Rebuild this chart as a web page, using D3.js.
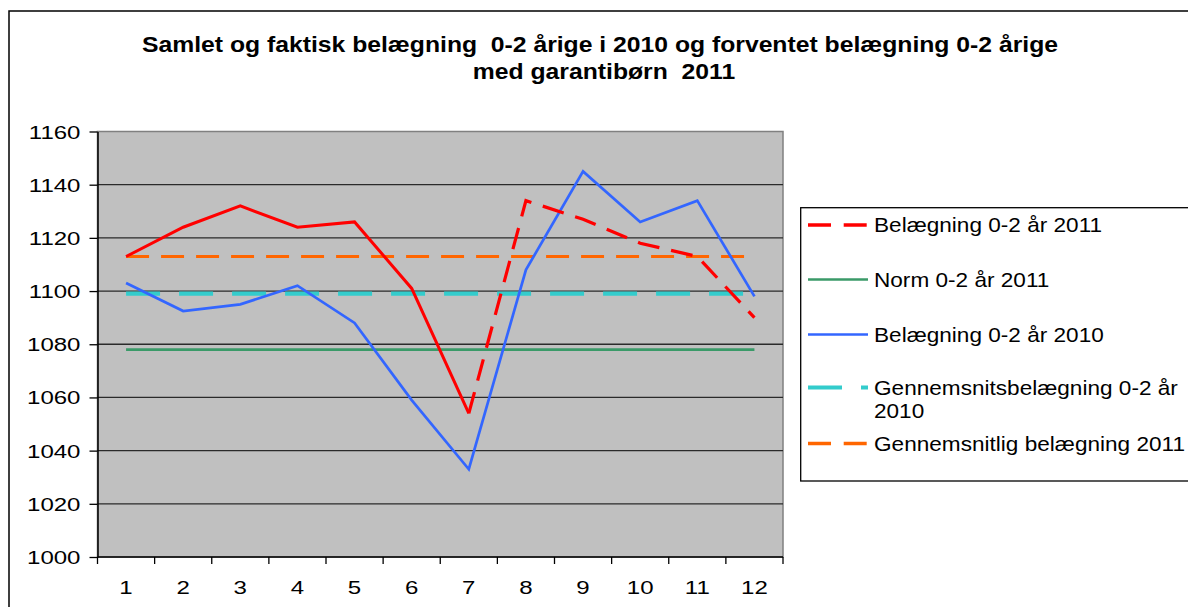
<!DOCTYPE html>
<html lang="da">
<head>
<meta charset="UTF-8">
<title>Samlet og faktisk belægning 0-2 årige</title>
<script src="https://d3js.org/d3.v7.min.js"></script>
<style>
    body { margin: 0; background: #fff; }
    svg text { font-family: "Liberation Sans", Arial, sans-serif; fill: #000; white-space: pre; }
    .title { font-weight: bold; font-size: 21.5px; }
    .tick-label { font-size: 18.5px; }
    .legend-label { font-size: 20px; }
</style>
</head>
<body>
<svg width="1188" height="607"></svg>
<script>
// Data
const months = [1, 2, 3, 4, 5, 6, 7, 8, 9, 10, 11, 12];
const belaegning2011 = [1113, 1124, 1132, 1124, 1126, 1101, 1054, 1134, 1127, 1118, 1113, 1090];
const norm2011 = [1078, 1078, 1078, 1078, 1078, 1078, 1078, 1078, 1078, 1078, 1078, 1078];
const belaegning2010 = [1103, 1092.5, 1095, 1102, 1088, 1059, 1033, 1108, 1145, 1126, 1134, 1098];
const gns2010 = [1099, 1099, 1099, 1099, 1099, 1099, 1099, 1099, 1099, 1099, 1099, 1099];
const gns2011 = [1113, 1113, 1113, 1113, 1113, 1113, 1113, 1113, 1113, 1113, 1113, 1113];
const yTicks = [1000, 1020, 1040, 1060, 1080, 1100, 1120, 1140, 1160];
const titleLines = ["Samlet og faktisk belægning  0-2 årige i 2010 og forventet belægning 0-2 årige",
                    "med garantibørn  2011"];
const legendNames = [["Belægning 0-2 år 2011"], ["Norm 0-2 år 2011"], ["Belægning 0-2 år 2010"],
                     ["Gennemsnitsbelægning 0-2 år", "2010"], ["Gennemsnitlig belægning 2011"]];
const dashedFromMonth = 7; // red 2011 line is dashed from month 7 on (forecast)

// styles
const colors = { red: "#ff0000", green: "#3a9a68", blue: "#3366ff", cyan: "#33cccc", orange: "#ff6600" };
const stretch = { title: 1.15, tick: 1.3, legend: 1.13 };

const svg = d3.select("svg");

// outer chart frame (runs off the picture right and bottom)
svg.append("rect")
    .attr("x", 9).attr("y", 11).attr("width", 1300).attr("height", 700)
    .attr("fill", "#fff").attr("stroke", "#000").attr("stroke-width", 1.5);

// title
svg.selectAll(".title")
    .data(titleLines)
    .enter().append("text")
    .attr("class", "title")
    .attr("text-anchor", "middle")
    .attr("transform", (d, i) => `translate(${i ? 604 : 600},${52 + i * 27}) scale(${stretch.title},1)`)
    .text(d => d);

const plot = { left: 97.5, right: 783, top: 131.5, bottom: 557 };

const x = d3.scaleBand().domain(months).range([plot.left, plot.right]);
const y = d3.scaleLinear().domain([1000, 1160]).range([plot.bottom, plot.top]);
const cx = m => x(m) + x.bandwidth() / 2;

// plot area
svg.append("rect")
    .attr("x", plot.left).attr("y", plot.top)
    .attr("width", plot.right - plot.left).attr("height", plot.bottom - plot.top)
    .attr("fill", "#c0c0c0").attr("stroke", "#808080").attr("stroke-width", 1.5);

// gridlines
svg.append("g")
    .selectAll("line")
    .data(yTicks.filter(t => t > 1000 && t < 1160))
    .enter().append("line")
    .attr("x1", plot.left).attr("x2", plot.right)
    .attr("y1", d => y(d)).attr("y2", d => y(d))
    .attr("stroke", "#2a2a2a").attr("stroke-width", 1.3);

// y axis
const yAxis = svg.append("g")
    .attr("transform", `translate(${plot.left},0)`)
    .call(d3.axisLeft(y).tickValues(yTicks).tickSize(8).tickSizeOuter(0).tickFormat(d3.format("d")));
yAxis.select(".domain").attr("stroke", "#000").attr("stroke-width", 1.5);
yAxis.selectAll(".tick line").attr("stroke", "#000").attr("stroke-width", 1.3);
yAxis.selectAll(".tick text")
    .attr("class", "tick-label")
    .attr("x", null).attr("dy", null)
    .attr("font-size", null).attr("font-family", null)
    .attr("transform", `translate(-17,6.5) scale(${stretch.tick},1)`);
yAxis.attr("font-size", null).attr("font-family", null);

// x axis: ticks at band boundaries, labels centred in bands
const xAxis = svg.append("g").attr("transform", `translate(0,${plot.bottom})`);
xAxis.append("line")
    .attr("x1", plot.left).attr("x2", plot.right)
    .attr("stroke", "#000").attr("stroke-width", 1.5);
xAxis.selectAll(".xtick")
    .data(months.concat([null]))
    .enter().append("line")
    .attr("x1", (d, i) => i < months.length ? x(d) : plot.right)
    .attr("x2", (d, i) => i < months.length ? x(d) : plot.right)
    .attr("y1", 0).attr("y2", 7)
    .attr("stroke", "#000").attr("stroke-width", 1.3);
xAxis.selectAll(".tick-label")
    .data(months)
    .enter().append("text")
    .attr("class", "tick-label")
    .attr("text-anchor", "middle")
    .attr("transform", d => `translate(${cx(d)},37) scale(${stretch.tick},1)`)
    .text(d => d);

// series
const line = d3.line().x(d => cx(d.m)).y(d => y(d.v));
const pts = arr => months.map((m, i) => ({ m, v: arr[i] }));

const series = [
    { data: pts(norm2011), color: colors.green, width: 2.7, dash: null },
    { data: pts(gns2010), color: colors.cyan, width: 4.2, dash: "34,19" },
    { data: pts(gns2011), color: colors.orange, width: 3.2, dash: "23,12" },
    { data: pts(belaegning2010), color: colors.blue, width: 2.7, dash: null },
    { data: pts(belaegning2011).filter(d => d.m <= dashedFromMonth), color: colors.red, width: 3, dash: null },
    { data: pts(belaegning2011).filter(d => d.m >= dashedFromMonth), color: colors.red, width: 3.2, dash: "22,12" }
];

svg.append("g")
    .selectAll("path")
    .data(series)
    .enter().append("path")
    .attr("d", d => line(d.data))
    .attr("fill", "none")
    .attr("stroke", d => d.color)
    .attr("stroke-width", d => d.width)
    .attr("stroke-dasharray", d => d.dash)
    .attr("stroke-linejoin", "miter");

// legend
const legendStyles = [
    { color: colors.red, width: 3.3, dash: "23,12.7" },
    { color: colors.green, width: 2.7, dash: null },
    { color: colors.blue, width: 2.7, dash: null },
    { color: colors.cyan, width: 4.2, dash: "34,19" },
    { color: colors.orange, width: 3.3, dash: "23,12.7" }
];
const legendY = [225, 279.5, 334.5, 387.5, 443.5];

const legend = svg.append("g");
legend.append("rect")
    .attr("x", 800.7).attr("y", 207.7).attr("width", 500).attr("height", 273.3)
    .attr("fill", "#fff").attr("stroke", "#000").attr("stroke-width", 1.3);

const items = legend.selectAll(".item")
    .data(legendNames)
    .enter().append("g")
    .attr("transform", (d, i) => `translate(808,${legendY[i]})`);

items.append("line")
    .attr("x1", 0).attr("x2", 60)
    .attr("stroke", (d, i) => legendStyles[i].color)
    .attr("stroke-width", (d, i) => legendStyles[i].width)
    .attr("stroke-dasharray", (d, i) => legendStyles[i].dash);

items.each(function (names) {
    d3.select(this).selectAll("text")
        .data(names)
        .enter().append("text")
        .attr("class", "legend-label")
        .attr("transform", (d, j) => `translate(66,${7 + j * 23}) scale(${stretch.legend},1)`)
        .text(d => d);
});
</script>
</body>
</html>
